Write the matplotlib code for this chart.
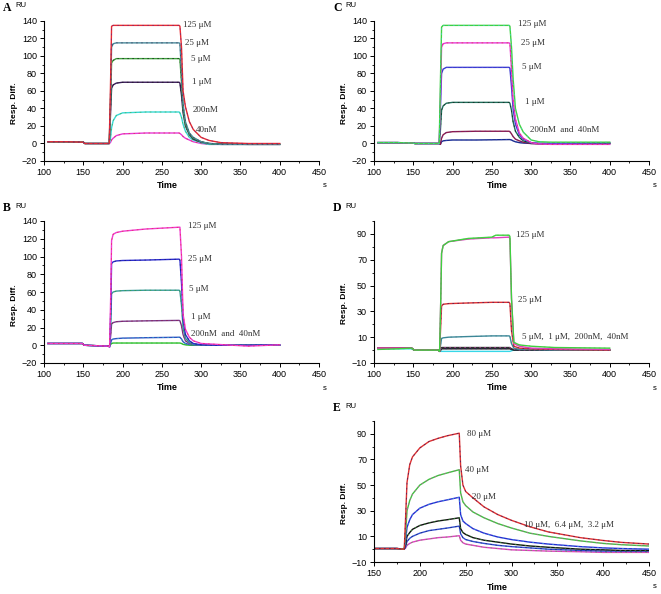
import matplotlib.pyplot as plt
from matplotlib.ticker import MultipleLocator

# ---- data ----
# panel A
t_a = [105, 130, 150, 152, 183, 184.5, 186, 188, 192, 200, 230, 272, 273, 275, 277, 280, 285, 290, 300, 310, 325, 360, 400]
a_125 = [2, 2, 1.5, 0, 0, 60, 134, 135, 135, 135, 135, 135, 134, 110, 60, 42, 25, 16, 7, 3.5, 1, 0, 0]
a_25 = [2, 2, 1.5, 0, 0, 45, 110, 114, 115, 115, 115, 115, 114, 80, 45, 25, 12, 7, 2, 0, -1, -1, -1]
a_5 = [2, 2, 1.5, 0, 0, 40, 92, 95, 97, 97, 97, 97, 96, 70, 40, 22, 11, 6, 2, 0, -1, -1, -1]
a_1 = [2, 2, 1.5, 0, 0, 30, 63, 67, 69, 70, 70, 70, 69, 55, 35, 20, 10, 5, 1.5, 0, -0.5, -1, -1]
a_200n = [2, 2, 1.5, 0, 0, 5, 18, 26, 32, 35, 36, 36, 35, 30, 22, 14, 7, 4, 1, -1, -1, -1, -1]
a_40n = [2, 2, 1.5, 0, 0, 1, 4, 6, 9, 11, 12, 12, 11.5, 10, 8, 6, 4, 2, 0, -1, -1, -1, -1]

# panel C
t_c = t_a
c_125 = [1, 1, 0.5, 0, 0, 70, 133, 135, 135, 135, 135, 135, 134, 110, 75, 40, 22, 13, 4, 2, 1.5, 1.5, 1.5]
c_25 = [1, 1, 0.5, 0, 0, 50, 110, 114, 115, 115, 115, 115, 114, 85, 50, 28, 12, 6, 1, -0.5, -1, -1, -1]
c_5 = [1, 1, 0.5, 0, 0, 40, 80, 85, 87, 87, 87, 87, 86, 65, 40, 22, 10, 5, 1, 0, 0, 0.5, 1]
c_1 = [1, 1, 0.5, 0, 0, 15, 38, 43, 46, 47, 47, 47, 46, 38, 25, 14, 7, 3, 0.5, 0, 0, 0, 0]
c_200n = [1, 1, 0.5, 0, 0, -1, 6, 10, 12.5, 13.5, 14, 14, 13.5, 11, 8, 5, 3, 1.5, 0, -0.5, -0.5, -0.5, 0]
c_40n = [1, 1, 0.5, 0, 0, -1, 2, 3, 3.5, 4, 4, 4.5, 4.5, 4, 3, 2, 1, 0.5, 0, 0, 0, 0, 0]

# panel B
t_b = [105, 130, 149, 151, 182, 183.5, 185, 186, 188, 192, 200, 230, 272, 273, 275, 277, 280, 285, 290, 300, 320, 360, 400]
b_125 = [2, 2, 2, 0, -1, -2, 60, 118, 125, 127, 128.5, 131, 133, 133, 100, 35, 18, 9, 5, 2, 1, -1, 0.5]
b_25 = [2, 2, 2, 0, -1, -2, 40, 92, 94, 95, 95.5, 96, 97, 96, 70, 30, 12, 5, 2, 0.5, 0, 0, 0.5]
b_5 = [2, 2, 2, 0, -1, -2, 25, 58, 60, 61, 61.5, 62, 62, 61, 45, 20, 8, 3, 1, 0, 0, 0, 0]
b_1 = [2, 2, 2, 0, -1, -1, 12, 24, 25.5, 26.5, 27, 27.5, 28, 27.5, 22, 12, 5, 2, 1, 0, 0, 0, 0]
b_200n = [2, 2, 2, 0, -1, -1, 3, 6, 7, 7.5, 8, 8.5, 9, 9, 7, 4, 2, 1, 0.5, 0, 0, 0, 0]
b_40n = [2, 2, 2, 0, -1, -0.5, 1, 2, 2.5, 2.5, 2.5, 2.5, 2.5, 2.5, 2, 1, 0.5, 0, 0, 0, 0, 0, 0]

# panel D
t_d = [105, 130, 148, 151, 182, 183.5, 185, 186, 188, 195, 220, 250, 255, 272, 273, 275, 278, 285, 300, 330, 400]
d_125g = [0.5, 1, 1.5, 0, 0, -1, 40, 75, 81, 84, 86.5, 87.5, 89, 89, 88, 40, 6, 4, 3, 2, 1.5]
d_125m = [1.5, 1.5, 1.5, 0, 0, -1, 40, 75, 81, 84, 86, 87, 87, 87.5, 86, 40, 5, 3, 1.5, 1, 0.5]
d_25 = [1.5, 1.5, 1.5, 0, 0, -1, 20, 34, 35.5, 36, 36.5, 37, 37, 37, 36, 15, 3, 1.5, 1, 0.5, 0]
d_5 = [1.5, 1.5, 1.5, 0, 0, -1, 5, 9, 9.5, 10, 10.5, 11, 11, 11, 10.5, 5, 1.5, 0.5, 0.5, 0, 0]
d_1 = [1.5, 1.5, 1.5, 0, 0, -1, 1, 2, 2, 2, 2, 2, 2, 2, 2, 1, 0.5, 0, 0, 0, 0]
d_200n = [1.5, 1.5, 1.5, 0, 0, -1, 0, 1, 1, 1, 1, 1, 1, 1, 1, 0.5, 0, 0, 0, 0, 0]
d_40n = [1, 1, 1, 0, 0, -1, -1, -1, -1, -1, -1, -1, -1, -1, -1, -0.5, 0, 0, 0, 0, 0]

# panel E
t_e = [150, 175, 183, 184.5, 186, 189, 192, 200, 210, 220, 230, 243, 244.5, 247, 250, 258, 270, 285, 300, 320, 340, 375, 400, 420, 450]
e_80 = [0.5, 0.5, 0, 25, 52, 66, 72, 79, 84, 86.5, 88.5, 90.5, 65, 50, 45, 40, 33, 27, 22.5, 17.5, 13.5, 9, 6.8, 5.3, 4]
e_40 = [0.5, 0.5, 0, 12, 30, 38, 43, 50, 54.5, 57.5, 59.5, 62, 44, 37, 34, 29, 24.5, 20, 16.5, 12.5, 10, 6.5, 4.5, 3.5, 2.5]
e_20 = [0.5, 0.5, 0, 7, 17, 23, 27, 32, 35, 37, 38.5, 40.5, 27, 22, 20, 16, 12.5, 9.5, 7.5, 5.5, 4, 2, 1, 0.5, 0]
e_10 = [0.5, 0.5, 0, 4, 10, 13, 15.5, 18.5, 20.5, 22, 23, 24.5, 16, 13, 11.5, 9, 7, 5.5, 4, 2.5, 1.5, 0, -0.5, -1, -1]
e_6 = [0.5, 0.5, 0, 2, 6, 8.5, 10, 12.5, 14.5, 15.5, 16.5, 18, 12, 9, 7.5, 6, 4.5, 3, 2, 1, 0, -1, -1.5, -1.5, -1.5]
e_3 = [0.5, 0.5, 0, 1, 3, 4.5, 5.5, 7, 8, 9, 9.5, 10.5, 7, 5, 4, 3, 1.5, 0.5, -0.5, -1, -1.5, -2, -2.5, -2.5, -2.5]

# (values, main colour, overlay colour)
panel_a = [(a_40n, '#e83ad8', '#e03030'), (a_200n, '#38d8d8', '#40b040'), (a_1, '#3a1a5a', '#111111'),
           (a_5, '#3ca03c', '#111111'), (a_25, '#4a8a9a', '#333355'), (a_125, '#e82a30', '#5a2a8a')]
panel_c = [(c_40n, '#1a2a8a', '#3050d0'), (c_200n, '#8b1a4a', '#6a2a8a'), (c_1, '#1f6e5a', '#111111'),
           (c_5, '#3a3ad0', '#5a5ae0'), (c_25, '#e83ad8', '#e03030'), (c_125, '#40d040', '#38d8d8')]
panel_b = [(b_40n, '#30c030', '#30c030'), (b_200n, '#3050c0', '#38c8d8'), (b_1, '#7a3a8a', '#8b1a4a'),
           (b_5, '#3a9a9a', '#30a030'), (b_25, '#2b2bd0', '#1a1a6a'), (b_125, '#f03cd0', '#e82a40')]
panel_d = [(d_40n, '#38d8e8', '#38d8e8'), (d_200n, '#111111', '#1a2a8a'), (d_1, '#333333', '#e040c0'),
           (d_5, '#3a8a9a', '#4a7a8a'), (d_25, '#e03030', '#1a1a6a'), (d_125m, '#e040c0', '#e040c0'),
           (d_125g, '#40d040', '#40d040')]
panel_e = [(e_3, '#e040c0', '#40c040'), (e_6, '#3050d0', '#1a1a6a'), (e_10, '#111111', '#40c040'),
           (e_20, '#2a2ad0', '#38c8e8'), (e_40, '#40c040', '#e040c0'), (e_80, '#e03030', '#1a1a6a')]

labels_a = [(277, 135, '125 μM'), (280, 115, '25 μM'), (287, 96, '5 μM'), (289, 70, '1 μM'),
            (289, 38, '200nM'), (293, 15, '40nM')]
labels_c = [(283, 137, '125 μM'), (287, 115, '25 μM'), (289, 87, '5 μM'), (292, 47, '1 μM'),
            (298, 15, '200nM  and  40nM')]
labels_b = [(283, 134, '125 μM'), (283, 97, '25 μM'), (285, 63, '5 μM'), (287, 32, '1 μM'),
            (287, 13, '200nM  and  40nM')]
labels_d = [(281, 89, '125 μM'), (283, 39, '25 μM'), (289, 10.5, '5 μM,  1 μM,  200nM,  40nM')]
labels_e = [(251, 90, '80 μM'), (249, 62, '40 μM'), (257, 40.5, '20 μM'), (314, 19, '10 μM,  6.4 μM,  3.2 μM')]

W, H = 661, 594
fig = plt.figure(figsize=(W / 100, H / 100), dpi=100)


def box(left, top, bottom, width=275):
    return [left / W, 1 - bottom / H, width / W, (bottom - top) / H]


def draw_panel(rect, letter, t, curves, labels, xlim, ylim, ymajor_start, ylabel_frac):
    ax = fig.add_axes(rect)
    for vals, c1, c2 in curves:
        ax.plot(t, vals, color=c1, lw=1.0, solid_joinstyle='round')
        ax.plot(t, vals, color=c2, lw=0.6, dashes=(2, 4), alpha=0.7)
    ax.set_xlim(xlim)
    ax.set_ylim(ylim)
    ax.spines['top'].set_visible(False)
    ax.spines['right'].set_visible(False)
    for s in ('left', 'bottom'):
        ax.spines[s].set_linewidth(0.8)
    ax.set_xticks(range(xlim[0], xlim[1] + 1, 50))
    ax.xaxis.set_minor_locator(MultipleLocator(25))
    ax.set_yticks(range(ymajor_start, ylim[1] + 1, 20))
    ax.yaxis.set_minor_locator(MultipleLocator(10))
    ax.tick_params(which='major', direction='out', length=3, width=0.7, labelsize=6.5, pad=2)
    ax.tick_params(which='minor', direction='out', length=1.5, width=0.6)
    for lab in ax.get_xticklabels() + ax.get_yticklabels():
        lab.set_family('Liberation Sans')
    for x, y, s in labels:
        ax.text(x, y, s, fontsize=6.5, family='Liberation Serif', color='#333333', va='center', ha='left')

    kw = dict(xycoords='axes fraction', textcoords='offset pixels')
    ax.annotate(letter, xy=(0, 1), xytext=(-41, 13), ha='left', va='center', fontsize=8.5,
                family='Liberation Serif', fontweight='bold', **kw)
    ax.annotate('RU', xy=(0, 1), xytext=(-23, 15), ha='center', va='center', fontsize=5.5,
                family='Liberation Sans', **kw)
    ax.annotate('Resp. Diff.', xy=(0, ylabel_frac), xytext=(-30, 0), ha='center', va='center',
                rotation=90, fontsize=6, fontweight='bold', family='Liberation Sans', **kw)
    ax.annotate('Time', xy=(0.45, 0), xytext=(0, -25), ha='center', va='center', fontsize=6.5,
                fontweight='bold', family='Liberation Sans', **kw)
    ax.annotate('s', xy=(1, 0), xytext=(6, -25), ha='center', va='center', fontsize=5.5,
                family='Liberation Sans', **kw)
    return ax


draw_panel(box(44, 21, 161), 'A', t_a, panel_a, labels_a, (100, 450), (-20, 140), -20, 0.41)
draw_panel(box(374, 21, 161), 'C', t_c, panel_c, labels_c, (100, 450), (-20, 140), -20, 0.41)
draw_panel(box(44, 221, 363), 'B', t_b, panel_b, labels_b, (100, 450), (-20, 140), -20, 0.41)
draw_panel(box(374, 221, 363), 'D', t_d, panel_d, labels_d, (100, 450), (-10, 100), -10, 0.42)
draw_panel(box(374, 421, 562), 'E', t_e, panel_e, labels_e, (150, 450), (-10, 100), -10, 0.42)

fig.savefig('out.png', dpi=100)
